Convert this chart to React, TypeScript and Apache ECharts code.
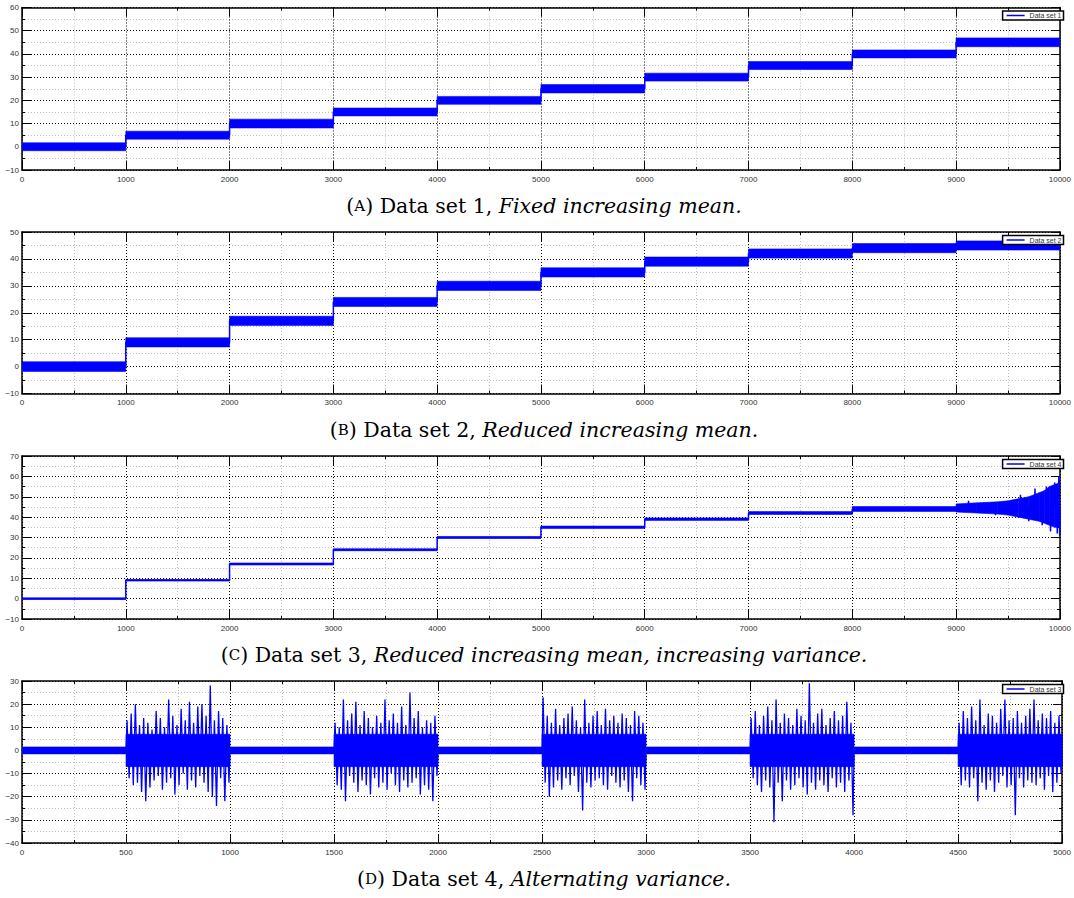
import { useEffect, useRef } from 'react';
import * as echarts from 'echarts';

// ---------- data ----------
const segmentMeansA = [0, 5, 10, 15, 20, 25, 30, 35, 40, 45];
const segmentNoiseA = [1.7, 1.7, 1.9, 1.7, 1.7, 1.8, 1.7, 1.7, 1.7, 1.9];

const segmentMeansB = [0, 9, 17, 24, 30, 35, 39, 42, 44, 45];
const segmentNoiseB = [1.8, 1.7, 1.7, 1.7, 1.7, 1.7, 1.7, 1.7, 1.7, 1.7];

const segmentMeansC = [0, 9, 17, 24, 30, 35, 39, 42, 44, 45];
const segmentNoiseC = [0.4, 0.4, 0.5, 0.5, 0.5, 0.6, 0.6, 0.7, 1.2];
const tailXC = [9000, 9200, 9400, 9500, 9600, 9700, 9800, 9850, 9900, 9950, 10000];
const tailHiC = [46.5, 47, 47.5, 48, 49, 50, 52, 53, 55, 56, 57];
const tailLoC = [42.5, 42, 41.5, 41, 40, 39, 38, 37, 36, 35, 35];
const spikesXC = [9120, 9380, 9620, 9700, 9760, 9830, 9870, 9910, 9950, 9975, 9990, 9998];
const spikesYC = [48, 41, 51, 38, 54, 36, 55, 33, 57, 32, 60, 31];

const quietNoiseD = [1.5, 1.5, 1.5, 1.5, 1.5];
const burstCoreD = [7, 7, 7, 7, 7];
const burst1D = [13, -12, 16, -15, 20, -14, 11, -18, 14, -22, 12, -16, 9, -13, 17, -11, 14, -17, 10, -14, 22, -12, 15, -19, 11, -15, 18, -10, 13, -17, 21, -13, 12, -16, 19, -11, 20, -14, 15, -18, 28, -20, 13, -24, 17, -12, 14, -22, 11, -14];
const burst2D = [12, -15, 10, -17, 22, -22, 13, -11, 16, -14, 21, -18, 11, -13, 17, -15, 14, -19, 10, -12, 15, -16, 12, -14, 22, -17, 13, -10, 16, -15, 12, -18, 19, -13, 11, -16, 25, -14, 14, -12, 17, -19, 10, -15, 13, -17, 12, -22, 15, -11];
const burst3D = [23, -14, 15, -20, 12, -16, 18, -13, 11, -17, 14, -12, 16, -15, 19, -11, 13, -18, 10, -26, 22, -14, 12, -16, 15, -13, 17, -12, 11, -15, 18, -17, 13, -11, 15, -14, 12, -16, 16, -13, 14, -18, 11, -22, 17, -12, 15, -15, 12, -17];
const burst4D = [14, -12, 17, -15, 11, -18, 15, -13, 19, -16, 13, -31, 22, -14, 12, -22, 16, -13, 14, -17, 11, -15, 18, -12, 15, -16, 13, -19, 29, -14, 12, -17, 16, -13, 18, -15, 11, -18, 14, -12, 17, -16, 13, -14, 15, -18, 21, -13, 12, -28];
const burst5D = [12, -15, 17, -13, 14, -16, 19, -12, 13, -22, 22, -14, 11, -17, 16, -13, 15, -18, 12, -14, 18, -11, 22, -16, 13, -15, 14, -28, 17, -12, 12, -16, 15, -13, 18, -14, 22, -15, 13, -12, 16, -17, 14, -11, 17, -18, 12, -14, 15, -10];
const burstsD = [burst1D, burst2D, burst3D, burst4D, burst5D];

const legendNames = ['Data set 1', 'Data set 2', 'Data set 4', 'Data set 3'];
const captionLetters = ['A', 'B', 'C', 'D'];
const captionTitles = ['Data set 1, ', 'Data set 2, ', 'Data set 3, ', 'Data set 4, '];
const captionItalics = [
  'Fixed increasing mean.',
  'Reduced increasing mean.',
  'Reduced increasing mean, increasing variance.',
  'Alternating variance.',
];

const xMax = [10000, 10000, 10000, 5000];
const xInterval = [1000, 1000, 1000, 500];
const yMin = [-10, -10, -10, -40];
const yMax = [60, 50, 70, 30];

// ---------- layout ----------
const BLUE = '#0000ff';
const gridTop = [7.5, 232, 456, 681];
const gridHeight = [162.5, 161.5, 163, 162];
const gridLeft = 22;
const gridWidth = 1044;

type Band = number[][];

function stepBand(means: number[], noise: number[], width: number): Band {
  return noise.map((n, i) => [i * width, (i + 1) * width, means[i] - n, means[i] + n, means[i] - n, means[i] + n]);
}
function envelopeBand(xs: number[], lo: number[], hi: number[]): Band {
  const out: Band = [];
  for (let i = 0; i < xs.length - 1; i++) out.push([xs[i], xs[i + 1], lo[i], hi[i], lo[i + 1], hi[i + 1]]);
  return out;
}
function stepLine(means: number[], width: number): number[][] {
  const out: number[][] = [];
  means.forEach((m, i) => {
    out.push([i * width, m]);
    out.push([(i + 1) * width, m]);
  });
  return out;
}

const bandA = stepBand(segmentMeansA, segmentNoiseA, 1000);
const bandB = stepBand(segmentMeansB, segmentNoiseB, 1000);
const bandC = stepBand(segmentMeansC, segmentNoiseC, 1000).concat(envelopeBand(tailXC, tailLoC, tailHiC));
const bandD: Band = [];
quietNoiseD.forEach((n, i) => {
  bandD.push([i * 1000, i * 1000 + 500, -n, n, -n, n]);
  bandD.push([i * 1000 + 500, i * 1000 + 1000, -burstCoreD[i], burstCoreD[i], -burstCoreD[i], burstCoreD[i]]);
});

const lineA = stepLine(segmentMeansA, 1000);
const lineB = stepLine(segmentMeansB, 1000);
const lineC: number[][] = stepLine(segmentMeansC.slice(0, 9), 1000);
{
  const m = segmentMeansC[9];
  lineC.push([9000, m]);
  spikesXC.forEach((x, i) => {
    lineC.push([x - 4, m]);
    lineC.push([x, spikesYC[i]]);
    lineC.push([x + 4, m]);
  });
  lineC.push([10000, m]);
}
const lineD: number[][] = [];
burstsD.forEach((b, i) => {
  const s = i * 1000;
  lineD.push([s, 0]);
  lineD.push([s + 500, 0]);
  b.forEach((v, k) => lineD.push([s + 505 + k * 10, v]));
  lineD.push([s + 1000, 0]);
});

const bands = [bandA, bandB, bandC, bandD];
const lines = [lineA, lineB, lineC, lineD];

const fmt = (v: number) => String(v).replace('-', '\u2212');

export default function App() {
  const ref = useRef<HTMLDivElement>(null);
  useEffect(() => {
    if (!ref.current) return;
    const chart = echarts.init(ref.current, null, { renderer: 'svg' });
    const grids: any[] = [];
    const xAxes: any[] = [];
    const yAxes: any[] = [];
    const series: any[] = [];
    const legends: any[] = [];
    const graphics: any[] = [];
    const labelStyle = { fontSize: 8, color: '#333', fontFamily: 'Liberation Sans' };
    const majorSplit = { show: true, lineStyle: { color: '#000', width: 1, type: [1, 2] } };
    const minorSplit = { show: true, lineStyle: { color: '#bdbdbd', width: 1, type: [1, 2] } };
    const axisLine = { show: true, onZero: false, lineStyle: { color: '#000', width: 1.5 } };
    const tick = { show: true, inside: true, length: 9, lineStyle: { color: '#000', width: 1 } };
    const minorTick = { show: true, splitNumber: 2, length: 3, lineStyle: { color: '#000', width: 1 } };
    for (let p = 0; p < 4; p++) {
      grids.push({ left: gridLeft, width: gridWidth, top: gridTop[p], height: gridHeight[p], containLabel: false });
    }
    for (let p = 0; p < 4; p++) {
      xAxes.push({
        type: 'value', gridIndex: p, position: 'bottom', min: 0, max: xMax[p], interval: xInterval[p],
        axisLine, axisTick: tick, minorTick, splitLine: majorSplit, minorSplitLine: minorSplit,
        axisLabel: { ...labelStyle, margin: 5, formatter: fmt },
      });
      yAxes.push({
        type: 'value', gridIndex: p, position: 'left', min: yMin[p], max: yMax[p], interval: 10,
        axisLine, axisTick: tick, minorTick, splitLine: majorSplit, minorSplitLine: minorSplit,
        axisLabel: { ...labelStyle, margin: 3, formatter: fmt },
      });
    }
    for (let p = 0; p < 4; p++) {
      xAxes.push({
        type: 'value', gridIndex: p, position: 'top', min: 0, max: xMax[p], interval: xInterval[p],
        axisLine, axisTick: tick, minorTick, splitLine: { show: false }, axisLabel: { show: false },
      });
      yAxes.push({
        type: 'value', gridIndex: p, position: 'right', min: yMin[p], max: yMax[p], interval: 10,
        axisLine, axisTick: tick, minorTick, splitLine: { show: false }, axisLabel: { show: false },
      });
    }
    for (let p = 0; p < 4; p++) {
      series.push({
        type: 'custom', name: 'band' + p, xAxisIndex: p, yAxisIndex: p, clip: true, silent: true,
        data: bands[p], encode: { x: [0, 1], y: [2, 3, 4, 5] },
        renderItem: (_params: any, api: any) => {
          const x0 = api.value(0), x1 = api.value(1);
          const pts = [
            api.coord([x0, api.value(3)]), api.coord([x1, api.value(5)]),
            api.coord([x1, api.value(4)]), api.coord([x0, api.value(2)]),
          ];
          return { type: 'polygon', shape: { points: pts }, style: { fill: BLUE, stroke: BLUE, lineWidth: 0.6 } };
        },
      });
      series.push({
        type: 'line', name: legendNames[p], xAxisIndex: p, yAxisIndex: p, data: lines[p],
        showSymbol: false, symbol: 'none', clip: true, silent: true,
        lineStyle: { color: BLUE, width: p === 3 ? 1.3 : 1.5 }, itemStyle: { color: BLUE },
      });
      legends.push({
        data: [{ name: legendNames[p], icon: 'rect' }], right: 10.5, top: gridTop[p] + 3.5, orient: 'vertical',
        itemWidth: 18, itemHeight: 1.5, itemGap: 0, padding: [1, 2, 1, 4],
        borderColor: '#000', borderWidth: 1.5, backgroundColor: '#fff', borderRadius: 0,
        textStyle: { fontSize: 7, color: '#333', fontFamily: 'Liberation Sans', padding: [0, 0, 0, 0] },
        selectedMode: false,
      });
      graphics.push({
        type: 'text', x: 544, y: gridTop[p] + gridHeight[p] + 36,
        style: {
          text: `{r|(}{s|${captionLetters[p]}}{r|) ${captionTitles[p]}}{i|${captionItalics[p]}}`,
          align: 'center', verticalAlign: 'middle', fill: '#000',
          rich: {
            r: { fontFamily: 'DejaVu Serif', fontSize: 20.5, fill: '#000' },
            s: { fontFamily: 'DejaVu Serif', fontSize: 15, fill: '#000' },
            i: { fontFamily: 'DejaVu Serif', fontSize: 20.5, fontStyle: 'italic', fill: '#000' },
          },
        },
      });
    }
    chart.setOption({
      animation: false,
      backgroundColor: '#fff',
      grid: grids,
      xAxis: xAxes,
      yAxis: yAxes,
      series,
      legend: legends,
      graphic: graphics,
    });
    return () => chart.dispose();
  }, []);
  return <div ref={ref} style={{ position: 'fixed', left: 0, top: 0, width: 1074, height: 898, background: '#fff' }} />;
}
